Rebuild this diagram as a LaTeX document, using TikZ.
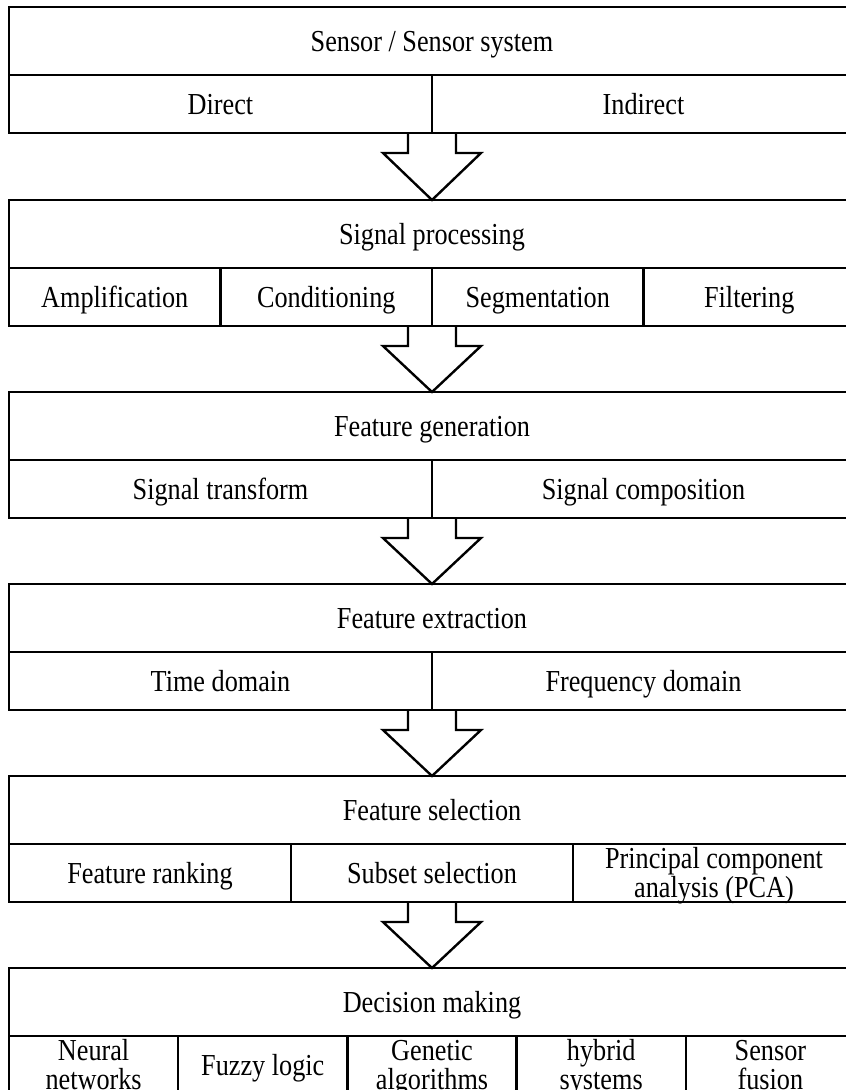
\documentclass[tikz,border=0pt]{standalone}
\usepackage{fontspec}
\setmainfont{Liberation Serif}[FakeStretch=0.86]
\usetikzlibrary{calc}
\begin{document}
\begin{tikzpicture}[x=1pt, y=-1pt,
  cell/.style={draw, line width=2.4pt, rectangle, inner sep=0pt, outer sep=0pt,
    anchor=north west, align=center, font=\fontsize{30.5}{29}\selectfont,
    text height=20pt, text depth=0pt},
  head/.style={cell, minimum width=846pt, minimum height=68pt},
  sub/.style={cell, minimum height=58pt, minimum width=#1},
  two/.style={text height=48pt, text depth=0pt},
  flow/.style={draw, line width=2.4pt, line join=miter}]
\useasboundingbox (0,0) rectangle (846,1090);
\clip (0,0) rectangle (846,1090);

% Stage 1
\node[head] (h1) at (9,7) {Sensor / Sensor system};
\node[sub=423pt] (c11) at (h1.south west) {Direct};
\node[sub=423pt] (c12) at (c11.north east) {Indirect};

% Stage 2
\node[head] (h2) at (9,200) {Signal processing};
\node[sub=211.5pt] (c21) at (h2.south west) {Amplification};
\node[sub=211.5pt] (c22) at (c21.north east) {Conditioning};
\node[sub=211.5pt] (c23) at (c22.north east) {Segmentation};
\node[sub=211.5pt] (c24) at (c23.north east) {Filtering};

% Stage 3
\node[head] (h3) at (9,392) {Feature generation};
\node[sub=423pt] (c31) at (h3.south west) {Signal transform};
\node[sub=423pt] (c32) at (c31.north east) {Signal composition};

% Stage 4
\node[head] (h4) at (9,584) {Feature extraction};
\node[sub=423pt] (c41) at (h4.south west) {Time domain};
\node[sub=423pt] (c42) at (c41.north east) {Frequency domain};

% Stage 5
\node[head] (h5) at (9,776) {Feature selection};
\node[sub=282pt] (c51) at (h5.south west) {Feature ranking};
\node[sub=282pt] (c52) at (c51.north east) {Subset selection};
\node[sub=282pt, two] (c53) at (c52.north east) {Principal component\\analysis (PCA)};

% Stage 6
\node[head] (h6) at (9,968) {Decision making};
\node[sub=169.2pt, two] (c61) at (h6.south west) {Neural\\networks};
\node[sub=169.2pt] (c62) at (c61.north east) {Fuzzy logic};
\node[sub=169.2pt, two] (c63) at (c62.north east) {Genetic\\algorithms};
\node[sub=169.2pt, two] (c64) at (c63.north east) {hybrid\\systems};
\node[sub=169.2pt, two] (c65) at (c64.north east) {Sensor\\fusion};

% Bottom centres of the stages
\coordinate (e1) at (h1.north |- c11.south);
\coordinate (e2) at (h2.north |- c21.south);
\coordinate (e3) at (h3.north |- c31.south);
\coordinate (e4) at (h4.north |- c41.south);
\coordinate (e5) at (h5.north |- c51.south);

% Hollow block arrows between stages
\foreach \a/\b in {e1/h2, e2/h3, e3/h4, e4/h5, e5/h6}{
  \draw[flow] ($(\a)+(-24,0)$) -- ++(0,20) -- ++(-25,0) -- (\b.north)
    -- ($(\a)+(49,20)$) -- ++(-25,0) -- ++(0,-20);
}
\end{tikzpicture}
\end{document}
